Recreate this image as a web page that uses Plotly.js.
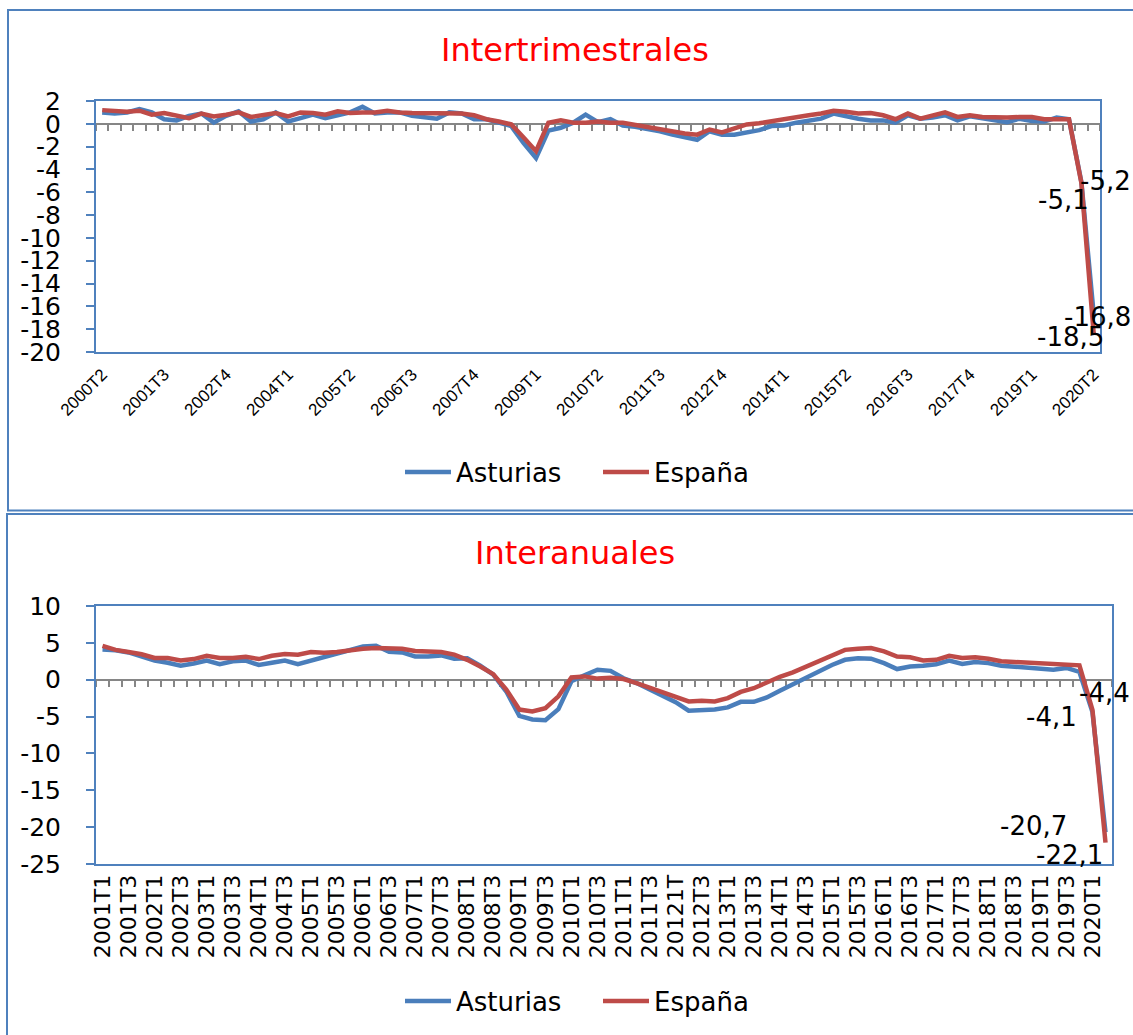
<!DOCTYPE html>
<html>
<head>
<meta charset="utf-8">
<script src="https://cdn.plot.ly/plotly-3.0.1.min.js"></script>
<style>html,body{margin:0;padding:0;background:#fff;}#chart{width:1133px;height:1035px;}</style>
</head>
<body>
<div id="chart"></div>
<script>
// ---------- DATA ----------
const topPeriods = [
 '2000T2','2000T3','2000T4',
 '2001T1','2001T2','2001T3','2001T4','2002T1','2002T2','2002T3','2002T4',
 '2003T1','2003T2','2003T3','2003T4','2004T1','2004T2','2004T3','2004T4',
 '2005T1','2005T2','2005T3','2005T4','2006T1','2006T2','2006T3','2006T4',
 '2007T1','2007T2','2007T3','2007T4','2008T1','2008T2','2008T3','2008T4',
 '2009T1','2009T2','2009T3','2009T4','2010T1','2010T2','2010T3','2010T4',
 '2011T1','2011T2','2011T3','2011T4','2012T1','2012T2','2012T3','2012T4',
 '2013T1','2013T2','2013T3','2013T4','2014T1','2014T2','2014T3','2014T4',
 '2015T1','2015T2','2015T3','2015T4','2016T1','2016T2','2016T3','2016T4',
 '2017T1','2017T2','2017T3','2017T4','2018T1','2018T2','2018T3','2018T4',
 '2019T1','2019T2','2019T3','2019T4','2020T1','2020T2'
];
const topTickLabels = ['2000T2','2001T3','2002T4','2004T1','2005T2','2006T3','2007T4','2009T1',
 '2010T2','2011T3','2012T4','2014T1','2015T2','2016T3','2017T4','2019T1','2020T2'];
const topAsturias = [
 1.0,0.9,1.0,
 1.3,1.0,0.4,0.3,0.7,0.9,0.1,0.7,
 1.1,0.2,0.4,1.0,0.2,0.5,0.8,0.5,
 0.8,1.0,1.5,0.9,1.0,1.0,0.7,0.6,
 0.45,1.0,0.9,0.4,0.4,0.1,-0.2,-1.7,
 -3.0,-0.6,-0.35,0.1,0.8,0.15,0.4,-0.15,
 -0.25,-0.45,-0.65,-0.95,-1.2,-1.4,-0.65,-0.95,
 -0.95,-0.75,-0.55,-0.2,-0.15,0.1,0.25,0.45,
 0.9,0.65,0.45,0.3,0.3,0.1,0.75,0.45,
 0.55,0.75,0.3,0.65,0.45,0.3,0.15,0.45,
 0.25,0.2,0.55,0.4,-5.1,-16.8
];
const topEspana = [
 1.2,1.1,1.05,
 1.15,0.8,0.95,0.75,0.5,0.9,0.65,0.8,
 1.0,0.6,0.75,0.95,0.65,1.0,0.95,0.8,
 1.1,0.95,1.0,1.0,1.15,1.0,0.95,0.95,
 0.95,0.95,0.9,0.75,0.4,0.2,-0.05,-1.2,
 -2.4,0.1,0.3,0.1,0.1,0.2,0.1,0.1,
 -0.1,-0.25,-0.5,-0.65,-0.85,-0.95,-0.5,-0.75,
 -0.35,-0.05,0.05,0.25,0.45,0.55,0.75,0.9,
 1.15,1.05,0.9,0.95,0.75,0.4,0.9,0.45,
 0.75,1.0,0.6,0.75,0.6,0.55,0.55,0.6,
 0.6,0.4,0.4,0.4,-5.2,-18.5
];
const topYTicks = [2, 0, -2, -4, -6, -8, -10, -12, -14, -16, -18, -20];

const botPeriods = [
 '2001T1','2001T2','2001T3','2001T4','2002T1','2002T2','2002T3','2002T4',
 '2003T1','2003T2','2003T3','2003T4','2004T1','2004T2','2004T3','2004T4',
 '2005T1','2005T2','2005T3','2005T4','2006T1','2006T2','2006T3','2006T4',
 '2007T1','2007T2','2007T3','2007T4','2008T1','2008T2','2008T3','2008T4',
 '2009T1','2009T2','2009T3','2009T4','2010T1','2010T2','2010T3','2010T4',
 '2011T1','2011T2','2011T3','2011T4','20121T','2012T2','2012T3','2012T4',
 '2013T1','2013T2','2013T3','2013T4','2014T1','2014T2','2014T3','2014T4',
 '2015T1','2015T2','2015T3','2015T4','2016T1','2016T2','2016T3','2016T4',
 '2017T1','2017T2','2017T3','2017T4','2018T1','2018T2','2018T3','2018T4',
 '2019T1','2019T2','2019T3','2019T4','2020T1','2020T2'
];
const botTickLabels = ['2001T1','2001T3','2002T1','2002T3','2003T1','2003T3','2004T1','2004T3',
 '2005T1','2005T3','2006T1','2006T3','2007T1','2007T3','2008T1','2008T3','2009T1','2009T3',
 '2010T1','2010T3','2011T1','2011T3','20121T','2012T3','2013T1','2013T3','2014T1','2014T3',
 '2015T1','2015T3','2016T1','2016T3','2017T1','2017T3','2018T1','2018T3','2019T1','2019T3','2020T1'];
const botAsturias = [
 4.1,4.0,3.7,3.2,2.6,2.3,1.9,2.2,
 2.6,2.1,2.5,2.6,2.0,2.3,2.6,2.1,
 2.6,3.1,3.6,4.0,4.5,4.6,3.8,3.7,
 3.15,3.15,3.3,2.85,2.9,1.9,0.7,-1.6,
 -4.9,-5.4,-5.5,-4.0,-0.2,0.6,1.35,1.2,
 0.2,-0.45,-1.35,-2.15,-3.05,-4.2,-4.2,-4.05,
 -3.75,-3.0,-3.0,-2.4,-1.5,-0.6,0.3,1.05,
 2.0,2.7,2.9,2.85,2.25,1.45,1.8,1.9,
 2.1,2.6,2.15,2.4,2.25,1.9,1.8,1.7,
 1.5,1.35,1.6,1.05,-4.4,-20.7
];
const botEspana = [
 4.6,4.05,3.75,3.45,2.95,2.95,2.6,2.8,
 3.25,2.95,2.95,3.1,2.8,3.25,3.5,3.4,
 3.75,3.65,3.75,4.0,4.2,4.3,4.2,4.2,
 3.9,3.85,3.75,3.4,2.7,1.8,0.75,-1.35,
 -4.05,-4.3,-3.85,-2.25,0.3,0.45,0.15,0.25,
 0.1,-0.45,-1.05,-1.65,-2.3,-2.95,-2.85,-2.95,
 -2.5,-1.65,-1.15,-0.3,0.4,1.0,1.8,2.6,
 3.4,4.05,4.2,4.3,3.85,3.15,3.05,2.6,
 2.7,3.25,2.95,3.05,2.85,2.5,2.4,2.3,
 2.35,2.2,2.15,1.95,-4.1,-22.1
];
const botYTicks = [10, 5, 0, -5, -10, -15, -20, -25];

const seriesNames = ['Asturias', 'España'];
const titles = ['Intertrimestrales', 'Interanuales'];
const topRange = [-20, 2];
const botRange = [-25, 10];

// ---------- STYLE ----------
const W = 1133, H = 1035;
const BLUE = '#4A7EBB', RED = '#BE4B48', AXBLUE = '#4F81BD', GRAY = '#868686';
const FONT = 'DejaVu Sans, Verdana, sans-serif';
const px = v => v / W, py = v => 1 - v / H;

const topDom = [py(352), py(101)];
const botDom = [py(864), py(606)];
const zeroPos = (dom, r) => dom[0] + (0 - r[0]) / (r[1] - r[0]) * (dom[1] - dom[0]);
const fmt = v => v.toFixed(1).replace('.', ',');

const lineStyle = c => ({color: c, width: 4.5});
const traces = [
  {x: topPeriods, y: topAsturias, xaxis: 'x', yaxis: 'y', mode: 'lines', name: seriesNames[0], line: lineStyle(BLUE), legend: 'legend'},
  {x: topPeriods, y: topEspana, xaxis: 'x', yaxis: 'y', mode: 'lines', name: seriesNames[1], line: lineStyle(RED), legend: 'legend'},
  {x: topPeriods, y: topEspana, xaxis: 'x3', yaxis: 'y', mode: 'lines', line: {width: 0, color: 'rgba(0,0,0,0)'}, showlegend: false, hoverinfo: 'skip'},
  {x: botPeriods, y: botAsturias, xaxis: 'x2', yaxis: 'y2', mode: 'lines', name: seriesNames[0], line: lineStyle(BLUE), legend: 'legend2'},
  {x: botPeriods, y: botEspana, xaxis: 'x2', yaxis: 'y2', mode: 'lines', name: seriesNames[1], line: lineStyle(RED), legend: 'legend2'},
  {x: botPeriods, y: botEspana, xaxis: 'x4', yaxis: 'y2', mode: 'lines', line: {width: 0, color: 'rgba(0,0,0,0)'}, showlegend: false, hoverinfo: 'skip'}
];

const zeroAxis = (dom, n, yref, r) => ({
  domain: dom, type: 'category', range: [-0.5, n - 0.5], anchor: 'free',
  position: zeroPos(yref, r), tickson: 'boundaries', dtick: 1,
  ticks: 'outside', ticklen: 6, tickwidth: 2, tickcolor: GRAY,
  showticklabels: false, showline: true, linecolor: GRAY, linewidth: 2,
  showgrid: false, zeroline: false, layer: 'below traces'
});
const labelAxis = (dom, n, over, anchor, vals, angle, font, extra) => Object.assign({
  domain: dom, type: 'category', range: [-0.5, n - 0.5], overlaying: over, anchor: anchor,
  tickmode: 'array', tickvals: vals, ticktext: vals, tickangle: angle, tickfont: font,
  ticks: '', showline: true, mirror: true, linecolor: AXBLUE, linewidth: 2,
  showgrid: false, zeroline: false
}, extra || {});
const valAxis = (dom, r, vals, anchor) => ({
  domain: dom, range: r, anchor: anchor,
  tickmode: 'array', tickvals: vals, ticktext: vals.map(v => String(v)),
  ticks: 'outside', ticklen: 8, tickwidth: 2, tickcolor: AXBLUE,
  showline: true, mirror: true, linecolor: AXBLUE, linewidth: 2,
  showgrid: false, zeroline: false, tickfont: {size: 25, color: '#000'},
  ticklabelstandoff: 20
});

const xTop = [px(96), px(1100)], xBot = [px(96), px(1112)];

const dataLabel = (xr, yr, x, y, dx, dy) => ({
  xref: xr, yref: yr, x: x, y: y, text: fmt(y), showarrow: false,
  xanchor: 'center', yanchor: 'middle',
  xshift: dx, yshift: dy, font: {size: 26, color: '#000'}
});
const nT = topPeriods.length - 1, nB = botPeriods.length - 1;

const legendStyle = yc => ({orientation: 'h', x: px(400), xanchor: 'left', y: py(yc), yanchor: 'middle',
  font: {size: 26}, bgcolor: 'rgba(0,0,0,0)', entrywidth: 137, itemwidth: 46});

const layout = {
  width: W, height: H, margin: {l: 0, r: 0, t: 0, b: 0},
  paper_bgcolor: '#fff', plot_bgcolor: '#fff',
  font: {family: FONT, color: '#000'},
  showlegend: true,
  xaxis: zeroAxis(xTop, topPeriods.length, topDom, topRange),
  xaxis3: labelAxis(xTop, topPeriods.length, 'x', 'y', topTickLabels, -45,
    {family: 'Liberation Sans, Arial, sans-serif', size: 17}, {ticklabelstandoff: 4}),
  yaxis: valAxis(topDom, topRange, topYTicks, 'x3'),
  xaxis2: zeroAxis(xBot, botPeriods.length, botDom, botRange),
  xaxis4: labelAxis(xBot, botPeriods.length, 'x2', 'y2', botTickLabels, -90, {size: 22}),
  yaxis2: valAxis(botDom, botRange, botYTicks, 'x4'),
  legend: legendStyle(472),
  legend2: legendStyle(1001),
  annotations: [
    {xref: 'paper', yref: 'paper', x: px(575), y: py(50), xanchor: 'center', yanchor: 'middle', text: titles[0], showarrow: false, font: {size: 32, color: '#FF0000'}},
    {xref: 'paper', yref: 'paper', x: px(575), y: py(553), xanchor: 'center', yanchor: 'middle', text: titles[1], showarrow: false, font: {size: 32, color: '#FF0000'}},
    dataLabel('x', 'y', topPeriods[nT - 1], topEspana[nT - 1], 24, 2),
    dataLabel('x', 'y', topPeriods[nT - 1], topAsturias[nT - 1], -18, -18),
    dataLabel('x', 'y', topPeriods[nT], topAsturias[nT], 4, -2),
    dataLabel('x', 'y', topPeriods[nT], topEspana[nT], -23, -2),
    dataLabel('x2', 'y2', botPeriods[nB - 1], botAsturias[nB - 1], 12, 19),
    dataLabel('x2', 'y2', botPeriods[nB - 1], botEspana[nB - 1], -41, -7),
    dataLabel('x2', 'y2', botPeriods[nB], botAsturias[nB], -72, 6),
    dataLabel('x2', 'y2', botPeriods[nB], botEspana[nB], -36, -12)
  ],
  shapes: [
    {type: 'rect', xref: 'paper', yref: 'paper', x0: px(8), x1: 1.02, y0: py(510.5), y1: py(10), line: {color: AXBLUE, width: 2}},
    {type: 'rect', xref: 'paper', yref: 'paper', x0: px(7), x1: 1.02, y0: -0.02, y1: py(514), line: {color: AXBLUE, width: 2}}
  ]
};

Plotly.newPlot('chart', traces, layout, {staticPlot: true});
</script>
</body>
</html>
